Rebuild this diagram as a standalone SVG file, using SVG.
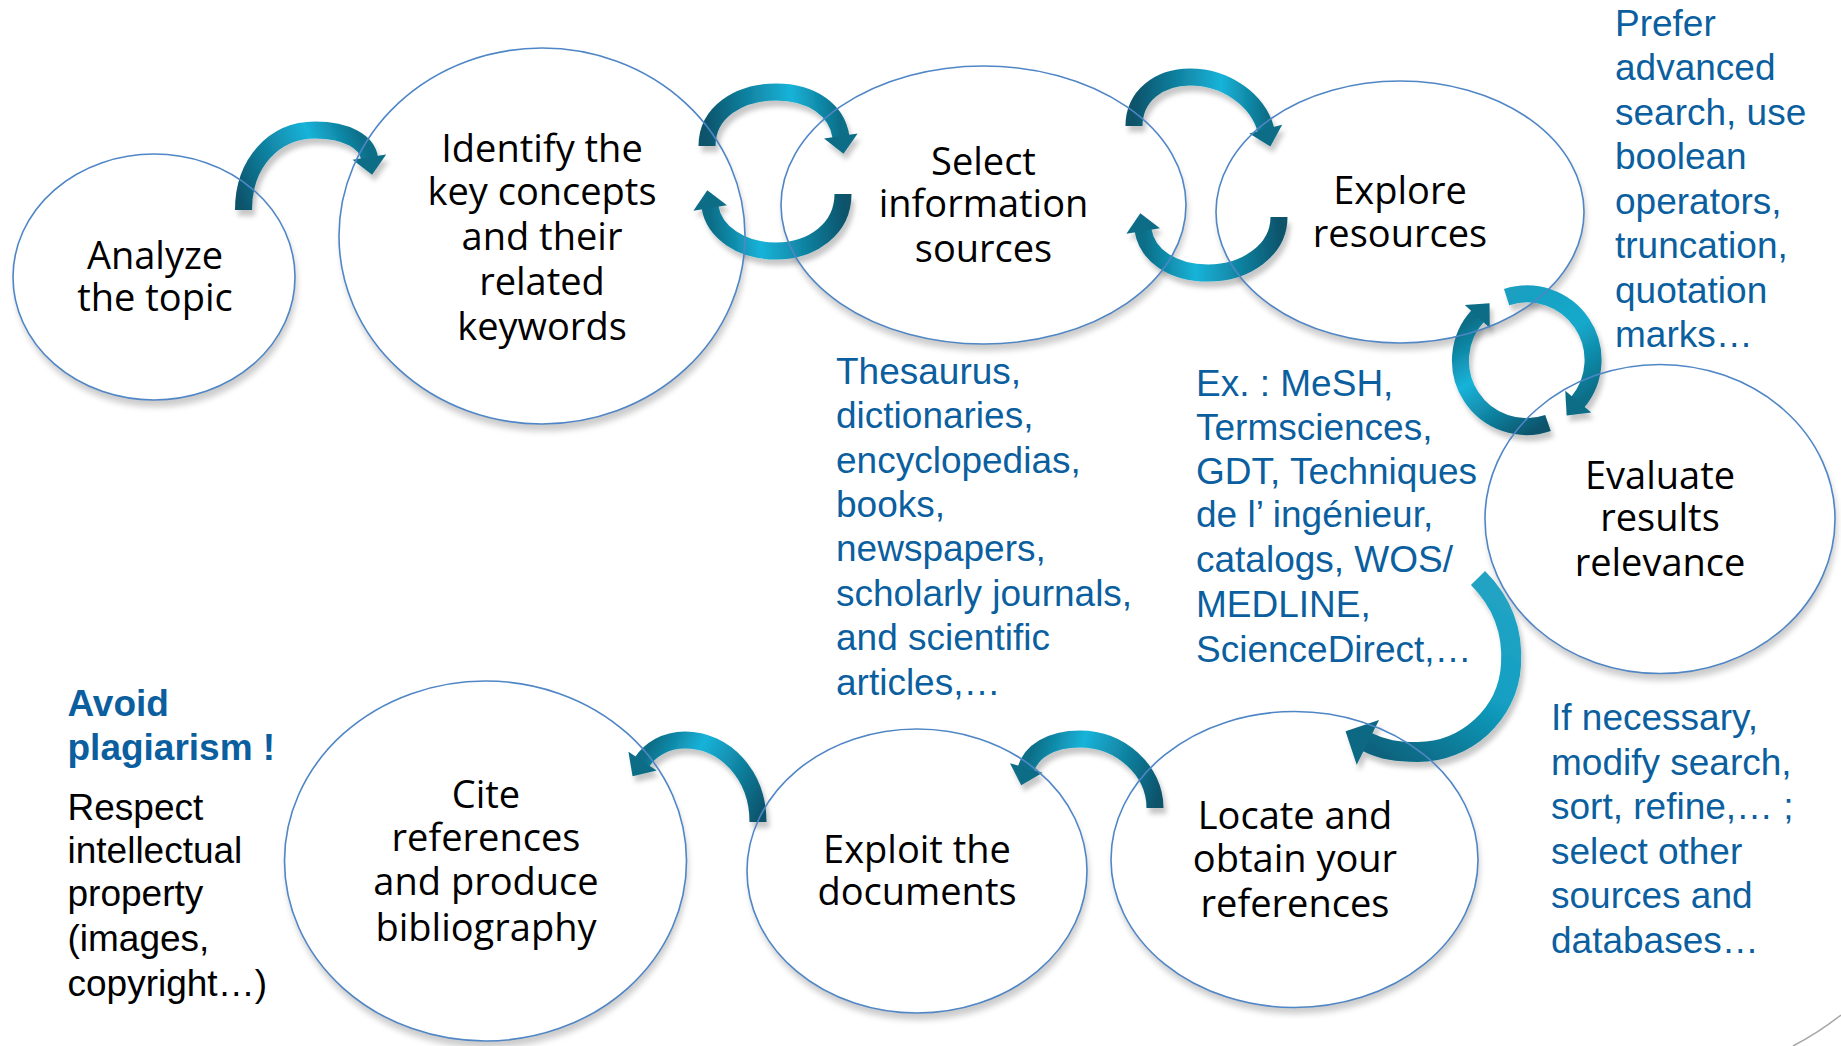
<svg xmlns="http://www.w3.org/2000/svg" width="1841" height="1046" viewBox="0 0 1841 1046">
<style>
.bg{fill:#ffffff}
.sh{fill:#000;opacity:0.2;filter:url(#blur)}
.cov{fill:#ffffff}
.node{fill:none;stroke:#4f86c6;stroke-width:1.6}
.lbl{font-family:"Open Sans","DejaVu Sans",sans-serif;font-size:38px;fill:#000;text-anchor:middle}
.note{font-family:"Liberation Sans",Arial,sans-serif;font-size:37px;fill:#0c5f9f}
.bold{font-weight:bold}
.black{fill:#000}
.arr{fill:none;stroke-width:17;stroke-linecap:butt;marker-end:url(#hd)}
.arrbig{fill:none;stroke-width:20;stroke-linecap:butt;marker-end:url(#hdbig)}
</style>
<defs>
<filter id="blur" x="-10%" y="-10%" width="120%" height="130%"><feGaussianBlur stdDeviation="3"/></filter>
<filter id="ashadow" x="-20%" y="-20%" width="140%" height="140%">
<feDropShadow dx="3" dy="6" stdDeviation="2.5" flood-color="#000" flood-opacity="0.22"/>
</filter>
<marker id="hd" markerUnits="userSpaceOnUse" orient="auto" markerWidth="40" markerHeight="40" refX="0" refY="0" overflow="visible">
<path d="M-1,-17 L17,0 L-1,17 Z" fill="#0c6c86"/>
</marker>
<marker id="hdbig" markerUnits="userSpaceOnUse" orient="auto" markerWidth="60" markerHeight="60" refX="0" refY="0" overflow="visible">
<path d="M-1,-25 L24,0 L-1,25 Z" fill="#0d6883"/>
</marker>
<linearGradient id="g1" gradientUnits="userSpaceOnUse" x1="243" y1="210" x2="370" y2="158"><stop offset="0" stop-color="#08536b"/><stop offset="0.65" stop-color="#19b3d9"/><stop offset="1" stop-color="#0a6e88"/></linearGradient>
<linearGradient id="g2" gradientUnits="userSpaceOnUse" x1="707" y1="146" x2="841" y2="137"><stop offset="0" stop-color="#08536b"/><stop offset="0.65" stop-color="#19b3d9"/><stop offset="1" stop-color="#0a6e88"/></linearGradient>
<linearGradient id="g3" gradientUnits="userSpaceOnUse" x1="843" y1="194" x2="710" y2="207"><stop offset="0" stop-color="#08536b"/><stop offset="0.65" stop-color="#19b3d9"/><stop offset="1" stop-color="#0a6e88"/></linearGradient>
<linearGradient id="g4" gradientUnits="userSpaceOnUse" x1="1134" y1="126" x2="1266" y2="130"><stop offset="0" stop-color="#08536b"/><stop offset="0.65" stop-color="#19b3d9"/><stop offset="1" stop-color="#0a6e88"/></linearGradient>
<linearGradient id="g5" gradientUnits="userSpaceOnUse" x1="1279" y1="217" x2="1143" y2="230"><stop offset="0" stop-color="#08536b"/><stop offset="0.65" stop-color="#19b3d9"/><stop offset="1" stop-color="#0a6e88"/></linearGradient>
<linearGradient id="g6" gradientUnits="userSpaceOnUse" x1="1507" y1="297" x2="1578" y2="402"><stop offset="0" stop-color="#1a9fc0"/><stop offset="0.5" stop-color="#15a9cc"/><stop offset="1" stop-color="#0a6e88"/></linearGradient>
<linearGradient id="g7" gradientUnits="userSpaceOnUse" x1="1548" y1="423" x2="1478" y2="316"><stop offset="0" stop-color="#08536b"/><stop offset="0.6" stop-color="#19b3d9"/><stop offset="1" stop-color="#0a6e88"/></linearGradient>
<linearGradient id="g8" gradientUnits="userSpaceOnUse" x1="1478" y1="578" x2="1367" y2="742"><stop offset="0" stop-color="#22a3c4"/><stop offset="0.45" stop-color="#129fc2"/><stop offset="1" stop-color="#0b647e"/></linearGradient>
<linearGradient id="g9" gradientUnits="userSpaceOnUse" x1="1155" y1="808" x2="1026" y2="769"><stop offset="0" stop-color="#08536b"/><stop offset="0.65" stop-color="#19b3d9"/><stop offset="1" stop-color="#0a6e88"/></linearGradient>
<linearGradient id="g10" gradientUnits="userSpaceOnUse" x1="758" y1="822" x2="642" y2="762"><stop offset="0" stop-color="#08536b"/><stop offset="0.65" stop-color="#19b3d9"/><stop offset="1" stop-color="#0a6e88"/></linearGradient>
</defs>
<rect class="bg" x="0" y="0" width="1841" height="1046"/>

<g id="node-shadows">
<ellipse class="sh" cx="156" cy="284" rx="141" ry="123"/>
<ellipse class="sh" cx="544" cy="243" rx="203" ry="188"/>
<ellipse class="sh" cx="985" cy="212" rx="202.5" ry="139"/>
<ellipse class="sh" cx="1402" cy="219" rx="184" ry="131"/>
<ellipse class="sh" cx="1662" cy="526" rx="175" ry="154.5"/>
<ellipse class="sh" cx="1296" cy="866" rx="183.5" ry="148"/>
<ellipse class="sh" cx="919" cy="878" rx="170" ry="142"/>
<ellipse class="sh" cx="487" cy="868" rx="201" ry="180"/>
<ellipse class="cov" cx="154" cy="277" rx="141" ry="123"/>
<ellipse class="cov" cx="542" cy="236" rx="203" ry="188"/>
<ellipse class="cov" cx="983.5" cy="205" rx="202.5" ry="139"/>
<ellipse class="cov" cx="1400" cy="212" rx="184" ry="131"/>
<ellipse class="cov" cx="1660" cy="519" rx="175" ry="154.5"/>
<ellipse class="cov" cx="1294.5" cy="859.5" rx="183.5" ry="148"/>
<ellipse class="cov" cx="917" cy="871" rx="170" ry="142"/>
<ellipse class="cov" cx="485.5" cy="861" rx="201" ry="180"/>
</g>

<g id="connectors" filter="url(#ashadow)">
<path class="arr" stroke="url(#g1)" d="M243.5,210 C243.5,163 274,130 315,130 C347,130 367,142 369.5,158"/>
<path class="arr" stroke="url(#g2)" d="M707,146 C707,112 739,92 776,92 C812,92 837,110 841,137"/>
<path class="arr" stroke="url(#g3)" d="M843,194 C843,229 812,251 776,251 C741,251 714,232 710,207"/>
<path class="arr" stroke="url(#g4)" d="M1134,126 C1134,96 1159,77 1190,77 C1226,77 1258,100 1266,130"/>
<path class="arr" stroke="url(#g5)" d="M1279,217 C1279,250 1246,273 1208,273 C1172,273 1147,255 1143,230"/>
<path class="arr" stroke="url(#g6)" d="M1506.6,297.2 A66,66 0 0 1 1577.6,402.4"/>
<path class="arr" stroke="url(#g7)" d="M1548,423 A66,66 0 0 1 1478,315.8"/>
<path class="arrbig" stroke="url(#g8)" d="M1478,578 C1505,605 1513,635 1511,665 C1508,715 1465,752 1418,752 C1398,752 1383,750 1367,742"/>
<path class="arr" stroke="url(#g9)" d="M1155,808 C1155,770 1120,739 1080,739 C1050,739 1031,752 1026,769"/>
<path class="arr" stroke="url(#g10)" d="M758,822 C758,775 725,740 685,740 C665,740 650,750 642,762"/>
</g>

<g id="node-analyze">
<ellipse class="node" cx="154" cy="277" rx="141" ry="123"/>
<text class="lbl"><tspan x="155" y="269">Analyze</tspan><tspan x="155" y="311">the topic</tspan></text>
</g>
<g id="node-identify">
<ellipse class="node" cx="542" cy="236" rx="203" ry="188"/>
<text class="lbl"><tspan x="542" y="162">Identify the</tspan><tspan x="542" y="205">key concepts</tspan><tspan x="542" y="250">and their</tspan><tspan x="542" y="295">related</tspan><tspan x="542" y="340">keywords</tspan></text>
</g>
<g id="node-select">
<ellipse class="node" cx="983.5" cy="205" rx="202.5" ry="139"/>
<text class="lbl"><tspan x="983.5" y="175">Select</tspan><tspan x="983.5" y="217">information</tspan><tspan x="983.5" y="262">sources</tspan></text>
</g>
<g id="node-explore">
<ellipse class="node" cx="1400" cy="212" rx="184" ry="131"/>
<text class="lbl"><tspan x="1400" y="203.5">Explore</tspan><tspan x="1400" y="247">resources</tspan></text>
</g>
<g id="node-evaluate">
<ellipse class="node" cx="1660" cy="519" rx="175" ry="154.5"/>
<text class="lbl"><tspan x="1660" y="489">Evaluate</tspan><tspan x="1660" y="531">results</tspan><tspan x="1660" y="576">relevance</tspan></text>
</g>
<g id="node-locate">
<ellipse class="node" cx="1294.5" cy="859.5" rx="183.5" ry="148"/>
<text class="lbl"><tspan x="1295" y="829">Locate and</tspan><tspan x="1295" y="872">obtain your</tspan><tspan x="1295" y="917">references</tspan></text>
</g>
<g id="node-exploit">
<ellipse class="node" cx="917" cy="871" rx="170" ry="142"/>
<text class="lbl"><tspan x="917" y="863">Exploit the</tspan><tspan x="917" y="905">documents</tspan></text>
</g>
<g id="node-cite">
<ellipse class="node" cx="485.5" cy="861" rx="201" ry="180"/>
<text class="lbl"><tspan x="486" y="808">Cite</tspan><tspan x="486" y="851">references</tspan><tspan x="486" y="895">and produce</tspan><tspan x="486" y="941">bibliography</tspan></text>
</g>

<g id="notes">
<text class="note"><tspan x="836" y="384">Thesaurus,</tspan><tspan x="836" y="428">dictionaries,</tspan><tspan x="836" y="472.5">encyclopedias,</tspan><tspan x="836" y="517">books,</tspan><tspan x="836" y="561">newspapers,</tspan><tspan x="836" y="606">scholarly journals,</tspan><tspan x="836" y="650">and scientific</tspan><tspan x="836" y="695">articles,…</tspan></text>
<text class="note"><tspan x="1196" y="396">Ex. : MeSH,</tspan><tspan x="1196" y="440">Termsciences,</tspan><tspan x="1196" y="484">GDT, Techniques</tspan><tspan x="1196" y="527">de l’ ingénieur,</tspan><tspan x="1196" y="572">catalogs, WOS/</tspan><tspan x="1196" y="617">MEDLINE,</tspan><tspan x="1196" y="662">ScienceDirect,…</tspan></text>
<text class="note"><tspan x="1615" y="36">Prefer</tspan><tspan x="1615" y="80">advanced</tspan><tspan x="1615" y="124.5">search, use</tspan><tspan x="1615" y="169">boolean</tspan><tspan x="1615" y="213.5">operators,</tspan><tspan x="1615" y="258">truncation,</tspan><tspan x="1615" y="302.5">quotation</tspan><tspan x="1615" y="347">marks…</tspan></text>
<text class="note"><tspan x="1551" y="730">If necessary,</tspan><tspan x="1551" y="774.5">modify search,</tspan><tspan x="1551" y="819">sort, refine,… ;</tspan><tspan x="1551" y="864">select other</tspan><tspan x="1551" y="908">sources and</tspan><tspan x="1551" y="953">databases…</tspan></text>
<text class="note bold"><tspan x="67.5" y="716">Avoid</tspan><tspan x="67.5" y="760">plagiarism !</tspan></text>
<text class="note black"><tspan x="67.5" y="820">Respect</tspan><tspan x="67.5" y="863">intellectual</tspan><tspan x="67.5" y="906">property</tspan><tspan x="67.5" y="951">(images,</tspan><tspan x="67.5" y="996">copyright…)</tspan></text>
</g>

<path d="M1793,1046 Q1818,1033 1841,1015" fill="none" stroke="#a6a6a6" stroke-width="1.5"/>
</svg>
